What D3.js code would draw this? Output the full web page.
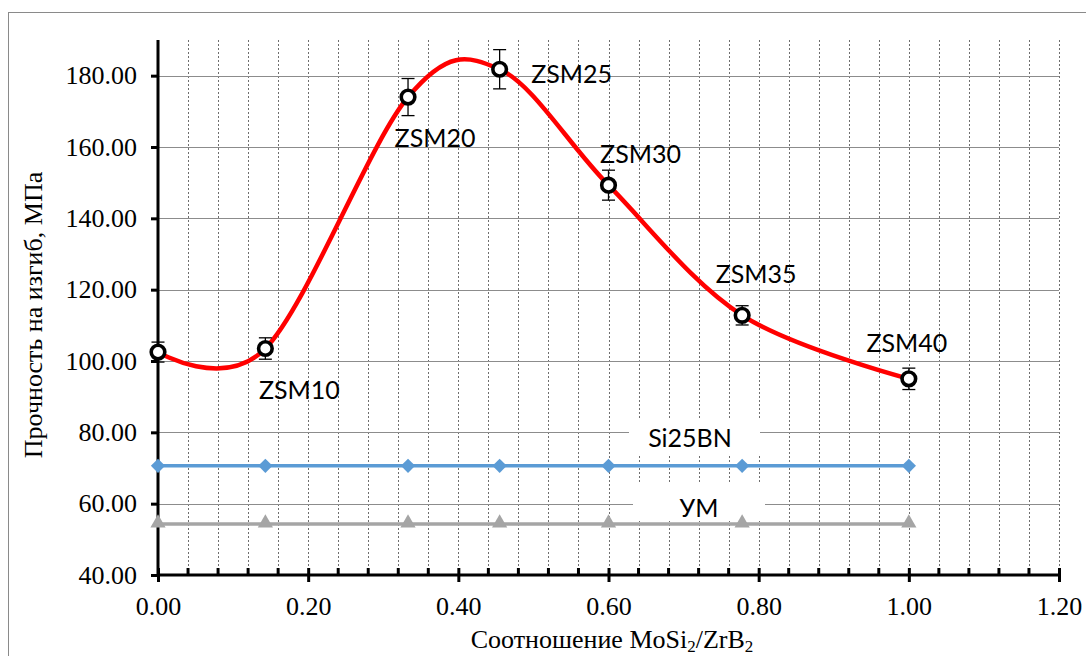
<!DOCTYPE html>
<html>
<head>
<meta charset="utf-8">
<script src="https://cdn.jsdelivr.net/npm/d3@7"></script>
<style>
  body { margin: 0; background: #fff; }
  svg { display: block; }
</style>
</head>
<body>
<svg id="chart"></svg>
<script>
// MoSi2/ZrB2 ratio for each sample
const ratios = [0, 0.143, 0.333, 0.455, 0.6, 0.778, 1.0];
const sampleNames = ["", "ZSM10", "ZSM20", "ZSM25", "ZSM30", "ZSM35", "ZSM40"];
const strength = [102.5, 103.5, 174.0, 181.8, 149.3, 112.8, 95.0];
const strengthErr = [2.8, 3.0, 5.2, 5.5, 4.2, 2.7, 3.0];
const si25bn = [70.6, 70.6, 70.6, 70.6, 70.6, 70.6, 70.6];
const um = [54.3, 54.3, 54.3, 54.3, 54.3, 54.3, 54.3];
const xTicks = [0, 0.2, 0.4, 0.6, 0.8, 1.0, 1.2];
const yTicks = [40, 60, 80, 100, 120, 140, 160, 180];

// label nudges (px) from the point, like the hand-moved labels in Excel
const labelOffsets = [[0, 0], [34, 50], [27, 50], [72, 14], [32, -22], [14, -32], [-2, -27]];

const width = 1086, height = 656;
const svg = d3.select("#chart").attr("width", width).attr("height", height);

const x = d3.scaleLinear().domain([0, 1.2]).range([158, 1059]);
const y = d3.scaleLinear().domain([40, 190]).range([575, 40]);

const serif = "'Liberation Serif', 'Times New Roman', serif";
const sans = "Lato, Carlito, Calibri, sans-serif";

// outer chart border (runs off right/bottom edge)
svg.append("rect")
    .attr("x", 8.5).attr("y", 12.5)
    .attr("width", 1100).attr("height", 700)
    .attr("fill", "#fff")
    .attr("stroke", "#8a8a8a");

// grid
const minorX = d3.range(1, 31).map(i => i * 0.04);
svg.append("g")
    .selectAll("line")
    .data(minorX)
    .enter().append("line")
    .attr("x1", d => Math.round(x(d)) + 0.5)
    .attr("x2", d => Math.round(x(d)) + 0.5)
    .attr("y1", y(190))
    .attr("y2", y(40))
    .attr("stroke", "#6e6e6e")
    .attr("stroke-width", 1)
    .attr("stroke-dasharray", "2,2");

svg.append("g")
    .selectAll("line")
    .data(yTicks.slice(1))
    .enter().append("line")
    .attr("x1", x(0))
    .attr("x2", x(1.2))
    .attr("y1", d => Math.round(y(d)) + 0.5)
    .attr("y2", d => Math.round(y(d)) + 0.5)
    .attr("stroke", "#8c8c8c")
    .attr("stroke-width", 1.2);

// white boxes behind the series name labels
const nameBoxes = [
    {x0: 629, x1: 760, y0: 419, y1: 454},
    {x0: 633, x1: 765, y0: 482, y1: 521}
];
svg.append("g")
    .selectAll("rect")
    .data(nameBoxes)
    .enter().append("rect")
    .attr("x", d => d.x0)
    .attr("y", d => d.y0)
    .attr("width", d => d.x1 - d.x0)
    .attr("height", d => d.y1 - d.y0)
    .attr("fill", "#fff");

// axes
const yAxis = d3.axisLeft(y).tickValues(yTicks).tickSize(7).tickPadding(14)
    .tickFormat(d3.format(".2f"));
const gy = svg.append("g").attr("transform", `translate(${x(0)},0)`).call(yAxis);
gy.select(".domain").attr("stroke", "#000").attr("stroke-width", 3).attr("d", `M0,${y(190)}V${y(40)}`);
gy.selectAll(".tick line").attr("stroke", "#000").attr("stroke-width", 3);
gy.selectAll(".tick text")
    .style("font-family", serif).style("font-size", "26px")
    .attr("fill", "#000")
    .attr("x", -21);

// minor x ticks (inside)
svg.append("g")
    .selectAll("line")
    .data(minorX.filter(d => Math.abs(d / 0.2 - Math.round(d / 0.2)) > 1e-6))
    .enter().append("line")
    .attr("x1", d => x(d)).attr("x2", d => x(d))
    .attr("y1", y(40) - 7).attr("y2", y(40))
    .attr("stroke", "#000").attr("stroke-width", 3);

const xAxis = d3.axisBottom(x).tickValues(xTicks).tickSize(0).tickPadding(22)
    .tickFormat(d3.format(".2f"));
const gx = svg.append("g").attr("transform", `translate(0,${y(40)})`).call(xAxis);
gx.select(".domain").attr("stroke", "#000").attr("stroke-width", 3).attr("d", `M${x(0)},0H${x(1.2)}`);
gx.selectAll(".tick line").attr("stroke", "#000").attr("stroke-width", 3).attr("y1", -7).attr("y2", 7);
gx.selectAll(".tick text")
    .style("font-family", serif).style("font-size", "26px")
    .attr("fill", "#000");

// axis titles
svg.append("text")
    .attr("transform", "translate(42,315) rotate(-90)")
    .attr("text-anchor", "middle")
    .style("font-family", serif)
    .style("font-size", "26px")
    .text("Прочность на изгиб, МПа");

const xt = svg.append("text")
    .attr("x", 612).attr("y", 648)
    .attr("text-anchor", "middle")
    .style("font-family", serif)
    .style("font-size", "26px");
xt.append("tspan").text("Соотношение MoSi");
xt.append("tspan").style("font-size", "17px").attr("dy", 4).text("2");
xt.append("tspan").attr("dy", -4).text("/ZrB");
xt.append("tspan").style("font-size", "17px").attr("dy", 4).text("2");

// reference series: Si25BN and УМ
const flatLine = d3.line().x((d, i) => x(ratios[i])).y(d => y(d));

svg.append("path")
    .attr("d", flatLine(si25bn))
    .attr("fill", "none").attr("stroke", "#5b9bd5").attr("stroke-width", 3.5);
svg.append("g")
    .selectAll("path")
    .data(si25bn)
    .enter().append("path")
    .attr("d", d3.symbol(d3.symbolDiamond2, 130))
    .attr("transform", (d, i) => `translate(${x(ratios[i])},${y(d)})`)
    .attr("fill", "#5b9bd5");

svg.append("path")
    .attr("d", flatLine(um))
    .attr("fill", "none").attr("stroke", "#a5a5a5").attr("stroke-width", 3.5);
svg.append("g")
    .selectAll("path")
    .data(um)
    .enter().append("path")
    .attr("d", d3.symbol(d3.symbolTriangle, 100))
    .attr("transform", (d, i) => `translate(${x(ratios[i])},${y(d) - 1})`)
    .attr("fill", "#a5a5a5");

// main smoothed curve
const curveLine = d3.line()
    .x((d, i) => x(ratios[i]))
    .y(d => y(d))
    .curve(d3.curveCardinal.tension(0));

svg.append("path")
    .attr("d", curveLine(strength))
    .attr("fill", "none")
    .attr("stroke", "#ff0000")
    .attr("stroke-width", 4.5);

// error bars
const err = svg.append("g").attr("stroke", "#000").attr("stroke-width", 1.3);
strength.forEach((v, i) => {
    const cx = x(ratios[i]);
    const top = y(v + strengthErr[i]), bot = y(v - strengthErr[i]);
    err.append("line").attr("x1", cx).attr("x2", cx).attr("y1", top).attr("y2", bot);
    err.append("line").attr("x1", cx - 6.5).attr("x2", cx + 6.5).attr("y1", top).attr("y2", top);
    err.append("line").attr("x1", cx - 6.5).attr("x2", cx + 6.5).attr("y1", bot).attr("y2", bot);
});

// markers
svg.append("g")
    .selectAll("circle")
    .data(strength)
    .enter().append("circle")
    .attr("cx", (d, i) => x(ratios[i]))
    .attr("cy", d => y(d))
    .attr("r", 6.8)
    .attr("fill", "#fff")
    .attr("stroke", "#000")
    .attr("stroke-width", 3.6);

// sample labels
const labelIdx = d3.range(strength.length).filter(i => sampleNames[i] !== "");
svg.append("g")
    .selectAll("text")
    .data(labelIdx)
    .enter().append("text")
    .attr("x", i => x(ratios[i]) + labelOffsets[i][0])
    .attr("y", i => y(strength[i]) + labelOffsets[i][1])
    .attr("text-anchor", "middle")
    .style("font-family", sans)
    .style("font-size", "25px")
    .attr("fill", "#000")
    .text(i => sampleNames[i]);

// series name labels
svg.append("text")
    .attr("x", 690).attr("y", 447)
    .attr("text-anchor", "middle")
    .style("font-family", sans).style("font-size", "25px")
    .text("Si25BN");
svg.append("text")
    .attr("x", 699).attr("y", 517)
    .attr("text-anchor", "middle")
    .style("font-family", sans).style("font-size", "25px")
    .text("УМ");
</script>
</body>
</html>
